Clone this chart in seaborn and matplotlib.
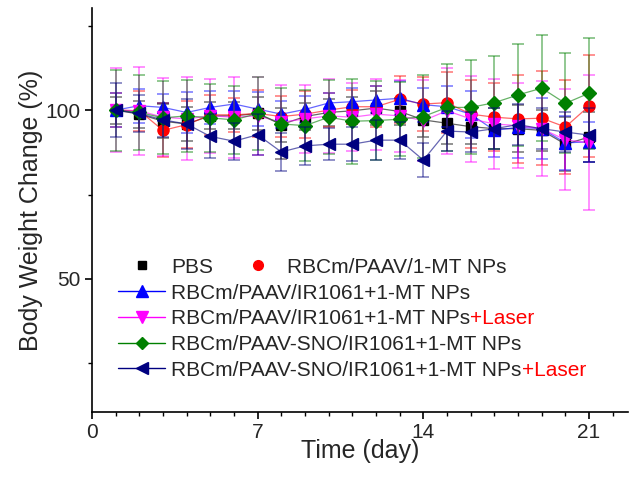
import numpy as np
import pandas as pd
import matplotlib
matplotlib.use("Agg")
import matplotlib.pyplot as plt
import seaborn as sns
from matplotlib.lines import Line2D

# ---- data ----
days = list(range(1, 22))

groups = [
    "PBS",
    "RBCm/PAAV/1-MT NPs",
    "RBCm/PAAV/IR1061+1-MT NPs",
    "RBCm/PAAV/IR1061+1-MT NPs+Laser",
    "RBCm/PAAV-SNO/IR1061+1-MT NPs",
    "RBCm/PAAV-SNO/IR1061+1-MT NPs+Laser",
]

pbs_mean = [100, 98.8, 96.7, 95.9, 98.3, 98.3, 99.0, 95.7, 98.1, 99.3, 99.8,
            100.6, 99.6, 97.1, 96.1, 95.1, 94.5, 94.5, 94.0, 89.9, 92.0]
pbs_sd = [4, 4, 5, 5, 4, 4, 5, 5, 4, 4, 4, 5, 4, 5, 6, 5, 6, 7, 6, 8, 7.5]

mt_mean = [100, 99.8, 94.0, 95.7, 98.6, 98.6, 99.0, 98.1, 98.8, 100, 101,
           101, 103.2, 101.8, 102.2, 98.8, 97.9, 97.4, 97.6, 95.0, 101.2]
mt_sd = [5, 6, 8, 7, 6, 5, 7, 6, 7, 5, 5, 6, 7, 8, 9, 10, 10, 13, 14, 14, 15]

ir_mean = [100, 101.3, 100.8, 99.3, 100.8, 101.8, 100.3, 98.8, 100.2, 102.1, 102.5,
           103.0, 103.5, 101.6, 101.0, 98.8, 94.0, 94.9, 94.5, 90.3, 90.6]
ir_sd = [5, 5, 4, 6, 5, 4, 5, 4, 4, 3, 4, 4, 5, 5, 6, 7, 8, 9, 9, 8, 6]

irl_mean = [100, 99.8, 97.9, 97.4, 98.3, 97.9, 98.3, 96.4, 97.4, 98.3, 97.9,
            98.8, 98.3, 96.9, 99.8, 97.4, 95.9, 95.4, 94.5, 91.2, 90.3]
irl_sd = [12.5, 13, 11.5, 12.3, 11, 12, 11.5, 11, 10, 11, 10, 10.5, 10.7, 12,
          12.7, 12.7, 13.4, 12.6, 14, 15, 20]

sno_mean = [100, 99.3, 97.7, 98.3, 97.7, 97.1, 99.0, 95.9, 95.4, 97.9, 96.7,
            96.9, 97.3, 98.1, 100.8, 100.8, 102.2, 104.5, 106.5, 102.0, 105.0]
sno_sd = [12, 11, 10.8, 10.7, 10, 10, 10.7, 10.5, 10.5, 11, 12.6, 11.8, 11, 12.3,
          12.8, 13.9, 13.8, 15.1, 15.6, 14.8, 16.5]

snol_mean = [100, 99.0, 97.1, 95.9, 92.2, 90.8, 92.7, 87.6, 89.4, 89.9, 89.9,
             91.1, 91.1, 85.2, 93.8, 93.5, 94.5, 95.7, 94.5, 93.5, 92.6]
snol_sd = [8, 5.6, 5, 7.4, 6.5, 5.5, 6, 5.5, 5.6, 4.7, 5, 6, 5.5, 5, 6, 6, 6, 6,
           6, 6, 8]

means = [pbs_mean, mt_mean, ir_mean, irl_mean, sno_mean, snol_mean]
sds = [pbs_sd, mt_sd, ir_sd, irl_sd, sno_sd, snol_sd]

colors = ["#000000", "#FF0000", "#0000FF", "#FF00FF", "#008000", "#000080"]
markers = ["s", "o", "^", "v", "D", "<"]
msizes = [7, 8, 9, 9, 7.5, 9]

rows = []
for g, m, s in zip(groups, means, sds):
    for d, v, e in zip(days, m, s):
        rows.append({"day": d, "weight": v, "sd": e, "group": g})
df = pd.DataFrame(rows)

# ---- figure ----
sns.set_style("ticks")
plt.rcParams["font.family"] = ["Liberation Sans", "DejaVu Sans"]

fig = plt.figure(figsize=(6.3, 4.79), dpi=100)
ax = fig.add_axes([0.146, 0.14, 0.851, 0.843])

for i, g in enumerate(groups):
    sub = df[df["group"] == g]
    ax.errorbar(sub["day"], sub["weight"], yerr=sub["sd"], fmt="none",
                ecolor=colors[i], elinewidth=1.2, capsize=4.5, capthick=1.2,
                alpha=0.5, zorder=2 + i)
    sns.lineplot(data=sub, x="day", y="weight", color=colors[i], ax=ax,
                 lw=0.9, alpha=0.6, legend=False, zorder=3 + i)
    ax.plot(sub["day"], sub["weight"], ls="none", marker=markers[i],
            ms=msizes[i], color=colors[i], mec=colors[i], zorder=3 + i)

ax.set_xlim(0, 22.65)
ax.set_ylim(10.6, 130.2)
ax.set_xticks([0, 7, 14, 21])
ax.set_xticks(range(0, 23), minor=True)
ax.set_yticks([50, 100])
ax.set_yticks([25, 75, 125], minor=True)
ax.tick_params(axis="both", which="major", length=5, width=1.2, labelsize=15,
               direction="out", color="black", pad=3)
ax.tick_params(axis="both", which="minor", length=3, width=1.0, direction="out",
               color="black")
ax.set_xlabel("Time (day)", fontsize=18, labelpad=-2)
ax.set_ylabel("Body Weight Change (%)", fontsize=18, labelpad=2)
sns.despine(ax=ax)
for sp in ["left", "bottom"]:
    ax.spines[sp].set_linewidth(1.2)
    ax.spines[sp].set_color("black")

# ---- legends ----
h1 = [Line2D([], [], ls="none", marker=markers[i], ms=msizes[i] - 1,
             color=colors[i]) for i in range(2)]
leg1 = ax.legend(h1, groups[:2], ncol=2, loc="upper left",
                 bbox_to_anchor=(0.1873, 0.462), bbox_transform=fig.transFigure,
                 frameon=False, fontsize=15, handlelength=2.26,
                 handletextpad=0.3, columnspacing=1.0, borderpad=0,
                 borderaxespad=0)
ax.add_artist(leg1)

h2 = [Line2D([], [], lw=1, marker=markers[i], ms=msizes[i] - 1,
             color=colors[i], alpha=1) for i in range(2, 6)]
labels2 = ["RBCm/PAAV/IR1061+1-MT NPs", "RBCm/PAAV/IR1061+1-MT NPs",
           "RBCm/PAAV-SNO/IR1061+1-MT NPs", "RBCm/PAAV-SNO/IR1061+1-MT NPs"]
leg2 = ax.legend(h2, labels2, loc="upper left",
                 bbox_to_anchor=(0.1873, 0.408), bbox_transform=fig.transFigure,
                 frameon=False, fontsize=15, handlelength=2.26,
                 handletextpad=0.3, labelspacing=0.32, borderpad=0,
                 borderaxespad=0, numpoints=1)

# red "+Laser" suffix placed right after the legend labels
fig.canvas.draw()
texts = leg2.get_texts()
for k in (1, 3):
    x, y = texts[k].get_transform().transform(texts[k].get_position())
    bb = texts[k].get_window_extent()
    fig.text(bb.x1, y, "+Laser", color="red", fontsize=15,
             ha="left", va="baseline", transform=None)

fig.savefig("out.png", dpi=100)
